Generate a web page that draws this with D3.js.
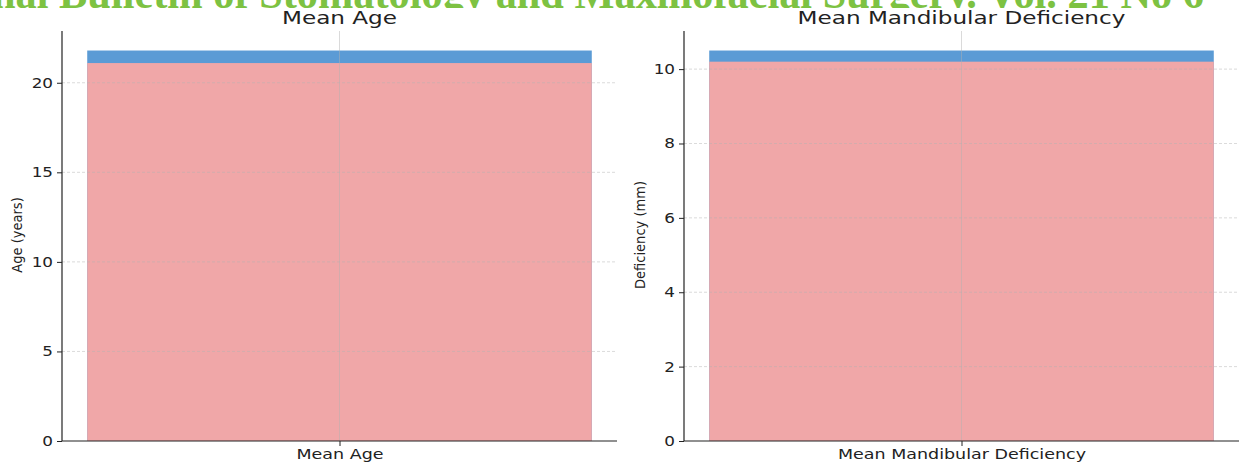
<!DOCTYPE html>
<html><head><meta charset="utf-8">
<script src="https://cdn.jsdelivr.net/npm/d3@7"></script>
<style>body{margin:0;background:#fff}svg{display:block}</style>
</head><body>
<svg id="c" width="1239" height="463"></svg>
<script>
const titles = ["Mean Age", "Mean Mandibular Deficiency"];
const categories = [["Mean Age"], ["Mean Mandibular Deficiency"]];
const blueValues = [21.8, 10.5];
const pinkValues = [21.1, 10.2];
const yTicksList = [[0, 5, 10, 15, 20], [0, 2, 4, 6, 8, 10]];
const yLabels = ["Age (years)", "Deficiency (mm)"];
const headerText = "nal Bulletin of Stomatology and Maxillofacial Surgery. Vol. 21 No 6";

const svg = d3.select("#c");
const font = "DejaVu Sans, sans-serif";

function stretch(sel, sx) {
  sel.each(function () {
    const t = d3.select(this);
    const x = +t.attr("x") || 0;
    const prev = t.attr("transform") || "";
    t.attr("transform", `${prev} translate(${x},0) scale(${sx},1) translate(${-x},0)`);
  });
}

// partially visible journal header (only its lower edge shows)
svg.append("clipPath").attr("id", "hdrclip").append("rect")
  .attr("x", 0).attr("y", 0).attr("width", 1239).attr("height", 8);
svg.append("text").attr("clip-path", "url(#hdrclip)").attr("x", -8).attr("y", 8)
  .attr("font-family", "Liberation Serif, serif").attr("font-weight", "bold")
  .attr("font-size", 44).attr("fill", "#7dc242")
  .attr("textLength", 1212).attr("lengthAdjust", "spacingAndGlyphs")
  .text(headerText);

const panels = [{x0: 62, x1: 617, ylx: 18}, {x0: 684, x1: 1239, ylx: 641}];
const yTop = 31, yBot = 441;

panels.forEach((p, i) => {
  const g = svg.append("g");
  const ymax = blueValues[i] * 1.05;
  const y = d3.scaleLinear().domain([0, ymax]).range([yBot, yTop]);
  const x = d3.scaleLinear().domain([-0.44, categories[i].length - 1 + 0.44]).range([p.x0, p.x1]);
  const cats = categories[i];

  g.selectAll("rect.b").data(cats).enter().append("rect")
    .attr("x", (d, k) => x(k - 0.4)).attr("width", x(0.4) - x(-0.4))
    .attr("y", y(blueValues[i])).attr("height", y(0) - y(blueValues[i]))
    .attr("fill", "#5b9bd5");
  g.selectAll("rect.p").data(cats).enter().append("rect")
    .attr("x", (d, k) => x(k - 0.4)).attr("width", x(0.4) - x(-0.4))
    .attr("y", y(pinkValues[i])).attr("height", y(0) - y(pinkValues[i]))
    .attr("fill", "#f0a7a8");

  const ticks = yTicksList[i];
  g.selectAll("line.hg").data(ticks.filter(t => t > 0)).enter().append("line")
    .attr("x1", p.x0).attr("x2", p.x1).attr("y1", d => y(d)).attr("y2", d => y(d))
    .attr("stroke", "#b0b0b0").attr("stroke-opacity", 0.6).attr("stroke-width", 0.8)
    .attr("stroke-dasharray", "3,2");
  g.selectAll("line.vg").data(cats).enter().append("line")
    .attr("x1", (d, k) => x(k)).attr("x2", (d, k) => x(k)).attr("y1", yTop).attr("y2", yBot)
    .attr("stroke", "#b0b0b0").attr("stroke-opacity", 0.6).attr("stroke-width", 0.8);

  const yAxis = d3.axisLeft(y).tickValues(ticks).tickSize(5).tickPadding(4);
  const ya = g.append("g").attr("transform", `translate(${p.x0},0)`).call(yAxis);
  ya.select(".domain").attr("d", `M0,${yTop}V${yBot}`).attr("stroke", "#222").attr("stroke-width", 1.2);
  ya.selectAll(".tick line").attr("stroke", "#222");
  ya.selectAll(".tick text").attr("font-family", font).attr("font-size", 14).attr("fill", "#222");
  stretch(ya.selectAll(".tick text"), 1.2);

  const xAxis = d3.axisBottom(d3.scaleOrdinal().domain(cats).range(cats.map((d, k) => x(k))))
    .tickSize(5).tickPadding(3);
  const xa = g.append("g").attr("transform", `translate(0,${yBot})`).call(xAxis);
  xa.select(".domain").attr("d", `M${p.x0},0H${p.x1}`).attr("stroke", "#222").attr("stroke-width", 1.2);
  xa.selectAll(".tick line").attr("stroke", "#222");
  xa.selectAll(".tick text").attr("font-family", font).attr("font-size", 14).attr("fill", "#222");
  stretch(xa.selectAll(".tick text"), 1.25);

  const tt = g.append("text").attr("x", (p.x0 + p.x1) / 2).attr("y", 24).attr("text-anchor", "middle")
    .attr("font-family", font).attr("font-size", 17).attr("fill", "#222").text(titles[i]);
  stretch(tt, 1.36);

  g.append("text").attr("transform", `translate(${p.ylx + 4},${(yTop + yBot) / 2 - 1}) rotate(-90)`)
    .attr("text-anchor", "middle").attr("font-family", "DejaVu Sans Condensed, DejaVu Sans, sans-serif")
    .attr("font-size", 14.5).attr("fill", "#222").text(yLabels[i]);
});
</script>
</body></html>
